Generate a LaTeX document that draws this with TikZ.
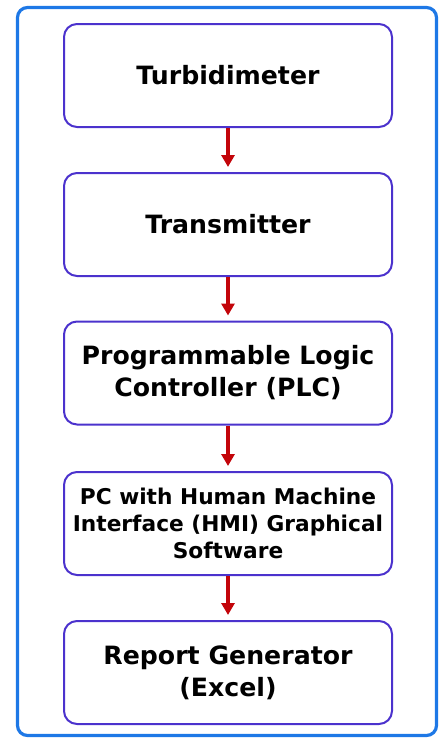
\documentclass[tikz,border=0pt]{standalone}
\usepackage{fontspec}
\setmainfont{DejaVu Sans}
\usetikzlibrary{arrows.meta}

\definecolor{frameblue}{RGB}{30,120,230}
\definecolor{boxedge}{RGB}{75,50,205}
\definecolor{flowred}{RGB}{195,5,10}

\tikzset{
  block/.style={draw=boxedge, line width=2pt, rounded corners=13pt,
    minimum width=328pt, minimum height=103pt, align=center,
    font=\bfseries\fontsize{25.2}{32}\selectfont},
  smalltext/.style={font=\bfseries\fontsize{21.7}{26.7}\selectfont},
  flow/.style={draw=flowred, line width=3.6pt, shorten >=5pt,
    -{Triangle[length=12pt,width=13pt]}}
}

\begin{document}
\begin{tikzpicture}[x=1pt,y=-1pt]
\useasboundingbox (0,0) rectangle (440,740);
\draw[frameblue, line width=3.2pt, rounded corners=10pt] (17.5,7.5) rectangle (436.5,735.5);

\node[block] (turb) at (228,75.5) {Turbidimeter};
\node[block] (trans) at (228,224.5) {Transmitter};
\node[block] (plc) at (228,373) {Programmable Logic\\Controller (PLC)};
\node[block,smalltext] (hmi) at (228,523.5) {PC with Human Machine\\Interface (HMI) Graphical\\Software};
\node[block] (report) at (228,672.5) {Report Generator\\(Excel)};

\draw[flow] (turb) -- (trans);
\draw[flow] (trans) -- (plc);
\draw[flow] (plc) -- (hmi);
\draw[flow] (hmi) -- (report);
\end{tikzpicture}
\end{document}
